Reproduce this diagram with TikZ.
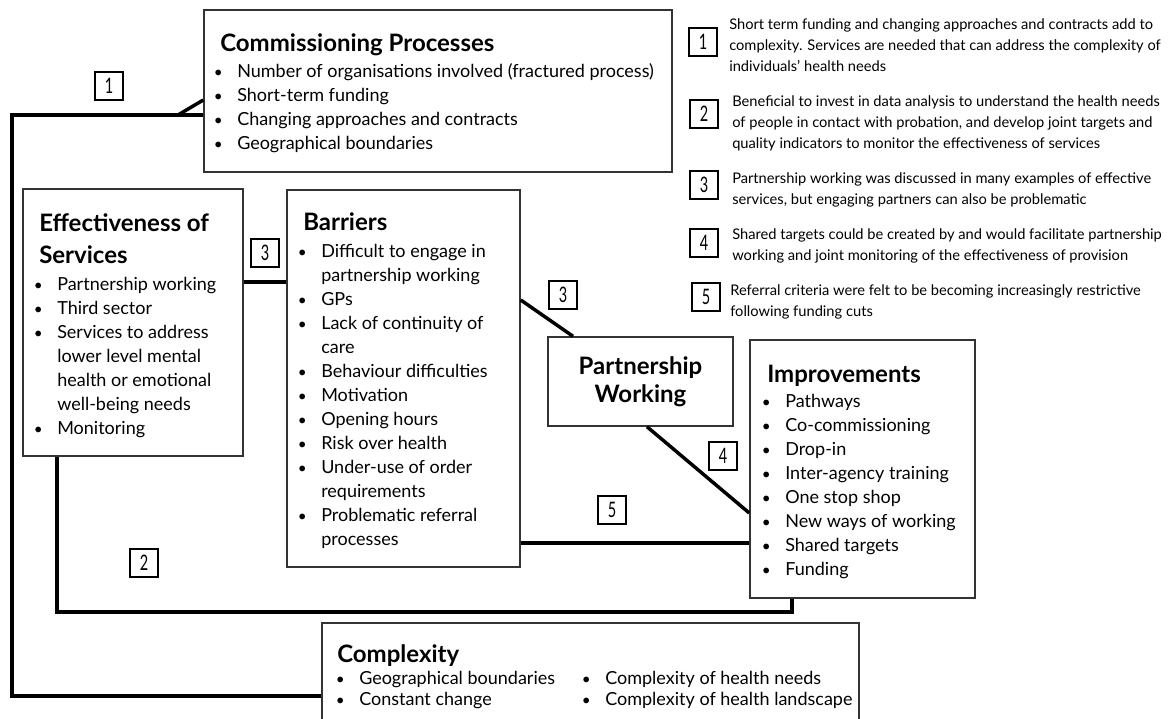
\documentclass[tikz,border=0pt]{standalone}
\usepackage{fontspec}
\setmainfont{Lato}
\usetikzlibrary{fit}
\definecolor{boxgray}{HTML}{333333}
\newcommand{\bul}{\makebox[0pt]{\scalebox{0.85}{\textbullet}}\hspace*{14.25pt}}
\newcommand{\ind}{\hspace*{14.25pt}}
\newcommand{\tagnum}[1]{\scalebox{0.68}[1]{#1}}

\begin{document}
\begin{tikzpicture}[x=0.75pt, y=-0.75pt, line join=miter,
    box/.style={draw=boxgray, line width=1.1pt, inner sep=0pt},
    link/.style={line width=2.6pt},
    head/.style={font=\fontsize{18}{24}\selectfont\bfseries, inner sep=0pt, anchor=base west, align=left},
    items/.style={font=\fontsize{13.5}{18}\selectfont, inner sep=0pt, anchor=base west, align=left},
    note/.style={font=\fontsize{11}{15.75}\selectfont, inner sep=0pt, anchor=base west, align=left},
    tag/.style={draw=black, line width=0.8pt, minimum size=21pt, inner sep=0pt, font=\fontsize{16}{16}\selectfont}]
  \useasboundingbox (0,0) rectangle (1174,718);

  % boxes (multi-line texts sit on the baseline of their last line)
  \node [box, fit={(204,10) (672,172)}] (comm) {};
  \node [head] (commtitle) at (220,51) {Commissioning Processes};
  \node [items] (commlist) at (218,149) {\bul Number of organisations involved (fractured process)\\
    \bul Short-term funding\\ \bul Changing approaches and contracts\\ \bul Geographical boundaries};

  \node [box, fit={(23,189) (243,456)}] (eff) {};
  \node [head] (efftitle) at (39,263) {Effectiveness of\\Services};
  \node [items] (efflist) at (38,434) {\bul Partnership working\\ \bul Third sector\\
    \bul Services to address\\ \ind lower level mental\\ \ind health or emotional\\
    \ind well-being needs\\ \bul Monitoring};

  \node [box, fit={(287,190) (520,567)}] (bar) {};
  \node [head] (bartitle) at (303,230) {Barriers};
  \node [items] (barlist) at (302,545) {\bul Difficult to engage in\\ \ind partnership working\\
    \bul GPs\\ \bul Lack of continuity of\\ \ind care\\ \bul Behaviour difficulties\\
    \bul Motivation\\ \bul Opening hours\\ \bul Risk over health\\ \bul Under-use of order\\
    \ind requirements\\ \bul Problematic referral\\ \ind processes};

  \node [box, fit={(548,337) (733,426)}] (pw) {};
  \node [head, anchor=center, align=center, font=\fontsize{18}{21}\selectfont\bfseries] (pwtitle)
    at (pw.center) {Partnership\\Working};

  \node [box, fit={(750,340) (975,598)}] (imp) {};
  \node [head] (imptitle) at (767,382) {Improvements};
  \node [items] (implist) at (766,575) {\bul Pathways\\ \bul Co-commissioning\\ \bul Drop-in\\
    \bul Inter-agency training\\ \bul One stop shop\\ \bul New ways of working\\
    \bul Shared targets\\ \bul Funding};

  \node [box, fit={(322,623) (859,740)}] (cplx) {};
  \node [head] (cplxtitle) at (337,662) {Complexity};
  \node [items, font=\fontsize{13.5}{15.4}\selectfont] (cplxlista) at (340,705.5)
    {\bul Geographical boundaries\\ \bul Constant change};
  \node [items, font=\fontsize{13.5}{15.4}\selectfont] (cplxlistb) at (586,705.5)
    {\bul Complexity of health needs\\ \bul Complexity of health landscape};

  % links
  \draw [link] (cplx.west |- 0,696) -| (12,115) -- (comm.west |- 0,115);
  \draw [link] (178,115) -- (comm.west |- 0,100);
  \draw [link] (eff.south -| 57,0) |- (792,612) -- (imp.south -| 792,0);
  \draw [link] (eff.east |- 0,282) -- (bar.west |- 0,282);
  \draw [link] (bar.east |- 0,300) -- (pw.north -| 573,0);
  \draw [link] (pw.south -| 647,0) -- (imp.west |- 0,513);
  \draw [link] (bar.east |- 0,543) -- (imp.west |- 0,543);

  % numbered tags
  \node [tag] (t1) at (109,86) {\tagnum{1}};
  \node [tag] (t2) at (144,563) {\tagnum{2}};
  \node [tag] (t3a) at (265,253) {\tagnum{3}};
  \node [tag] (t3b) at (563,295) {\tagnum{3}};
  \node [tag] (t4) at (723,456) {\tagnum{4}};
  \node [tag] (t5) at (612,510) {\tagnum{5}};

  % key
  \node [tag] (k1) at (703,42) {\tagnum{1}};
  \node [note] (k1text) at (729,71) {Short term funding and changing approaches and contracts add to\\
    complexity. Services are needed that can address the complexity of\\
    individuals' health needs};
  \node [tag] (k2) at (704,114) {\tagnum{2}};
  \node [note] (k2text) at (732,148) {Beneficial to invest in data analysis to understand the health needs\\
    of people in contact with probation, and develop joint targets and\\
    quality indicators to monitor the effectiveness of services};
  \node [tag] (k3) at (704,185) {\tagnum{3}};
  \node [note] (k3text) at (732,204) {Partnership working was discussed in many examples of effective\\
    services, but engaging partners can also be problematic};
  \node [tag] (k4) at (704,243) {\tagnum{4}};
  \node [note] (k4text) at (732,260) {Shared targets could be created by and would facilitate partnership\\
    working and joint monitoring of the effectiveness of provision};
  \node [tag] (k5) at (706,297) {\tagnum{5}};
  \node [note] (k5text) at (730,316) {Referral criteria were felt to be becoming increasingly restrictive\\
    following funding cuts};
\end{tikzpicture}
\end{document}
